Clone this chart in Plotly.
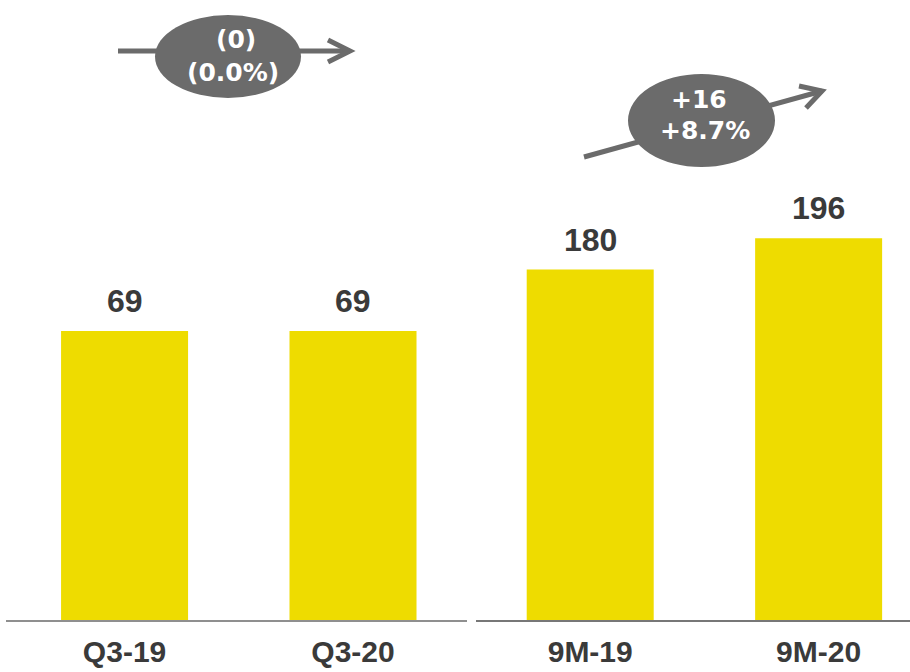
import plotly.graph_objects as go

# ---- data ----
q_categories = ["Q3-19", "Q3-20"]
q_values = [69, 69]
m_categories = ["9M-19", "9M-20"]
m_values = [180, 196]
q_change = ["(0)", "(0.0%)"]
m_change = ["+16", "+8.7%"]

W, H = 910, 672
BAR = "#EEDC00"
TXT = "#3a3a3a"
GREY = "#6b6b6b"
FONT = "Arial, Liberation Sans, sans-serif"
BFONT = "DejaVu Sans, Arial, sans-serif"


def px(x):
    return x / W


def py(y):
    return 1 - y / H


fig = go.Figure()
fig.add_trace(go.Bar(x=q_categories, y=q_values, marker_color=BAR, width=0.556,
                     xaxis="x", yaxis="y", hoverinfo="skip"))
fig.add_trace(go.Bar(x=m_categories, y=m_values, marker_color=BAR, width=0.556,
                     xaxis="x2", yaxis="y2", hoverinfo="skip"))

annotations = []
for c, v in zip(q_categories, q_values):
    annotations.append(dict(x=c, y=v, xref="x", yref="y", text=f"<b>{v}</b>",
                            showarrow=False, yanchor="bottom", yshift=10,
                            font=dict(family=FONT, size=32, color=TXT)))
for c, v in zip(m_categories, m_values):
    annotations.append(dict(x=c, y=v, xref="x2", yref="y2", text=f"<b>{v}</b>",
                            showarrow=False, yanchor="bottom", yshift=10,
                            font=dict(family=FONT, size=32, color=TXT)))

# change bubbles text
for t, (cx, cy) in zip(q_change, [(236, 39), (233, 73)]):
    annotations.append(dict(x=px(cx), y=py(cy), xref="paper", yref="paper", text=f"<b>{t}</b>",
                            showarrow=False, xanchor="center", yanchor="middle", borderpad=0,
                            font=dict(family=BFONT, size=25, color="white")))
for t, cx, anchor in zip(m_change, [699, 705], ["bottom", "top"]):
    annotations.append(dict(x=px(cx), y=py(115), xref="paper", yref="paper", text=f"<b>{t}</b>",
                            showarrow=False, xanchor="center", yanchor=anchor, borderpad=0,
                            font=dict(family=BFONT, size=25, color="white")))

shapes = []
# left arrow
shapes.append(dict(type="line", xref="paper", yref="paper", x0=px(118), y0=py(51), x1=px(350), y1=py(51),
                   line=dict(color=GREY, width=5)))
shapes.append(dict(type="path", xref="paper", yref="paper",
                   path=f"M {px(328)},{py(40)} L {px(350)},{py(51)} L {px(328)},{py(62)}",
                   line=dict(color=GREY, width=5)))
shapes.append(dict(type="circle", xref="paper", yref="paper", x0=px(155), x1=px(301), y0=py(15), y1=py(98),
                   fillcolor=GREY, line=dict(width=0)))
# right arrow
shapes.append(dict(type="line", xref="paper", yref="paper", x0=px(584), y0=py(157), x1=px(822), y1=py(91),
                   line=dict(color=GREY, width=5)))
shapes.append(dict(type="path", xref="paper", yref="paper",
                   path=f"M {px(799)},{py(86)} L {px(822)},{py(91)} L {px(806)},{py(108)}",
                   line=dict(color=GREY, width=5)))
shapes.append(dict(type="circle", xref="paper", yref="paper", x0=px(628), x1=px(775), y0=py(74), y1=py(167),
                   fillcolor=GREY, line=dict(width=0)))

ydom = [52 / H, 1]
fig.update_layout(
    template="none",
    width=W, height=H,
    margin=dict(l=0, r=0, t=0, b=0, pad=0),
    paper_bgcolor="white", plot_bgcolor="white",
    showlegend=False,
    xaxis=dict(domain=[6 / W, 467 / W], range=[-0.519, 1.499], showgrid=False, zeroline=False,
               automargin=False,
               showline=True, linecolor="#8f8f8f", linewidth=2, ticks="",
               tickfont=dict(family=FONT, size=30, color=TXT), ticklabelstandoff=4,
               tickprefix="<b>", ticksuffix="</b>"),
    yaxis=dict(domain=ydom, range=[0, 148], visible=False, automargin=False),
    xaxis2=dict(domain=[476 / W, 1], range=[-0.5, 1.4], showgrid=False, zeroline=False,
                automargin=False,
                showline=True, linecolor="#777777", linewidth=2, ticks="",
                tickfont=dict(family=FONT, size=30, color=TXT), ticklabelstandoff=4,
                tickprefix="<b>", ticksuffix="</b>", anchor="y2"),
    yaxis2=dict(domain=ydom, range=[0, 318.4], visible=False, anchor="x2", automargin=False),
    annotations=annotations,
    shapes=shapes,
)

fig.write_html("out.html")
